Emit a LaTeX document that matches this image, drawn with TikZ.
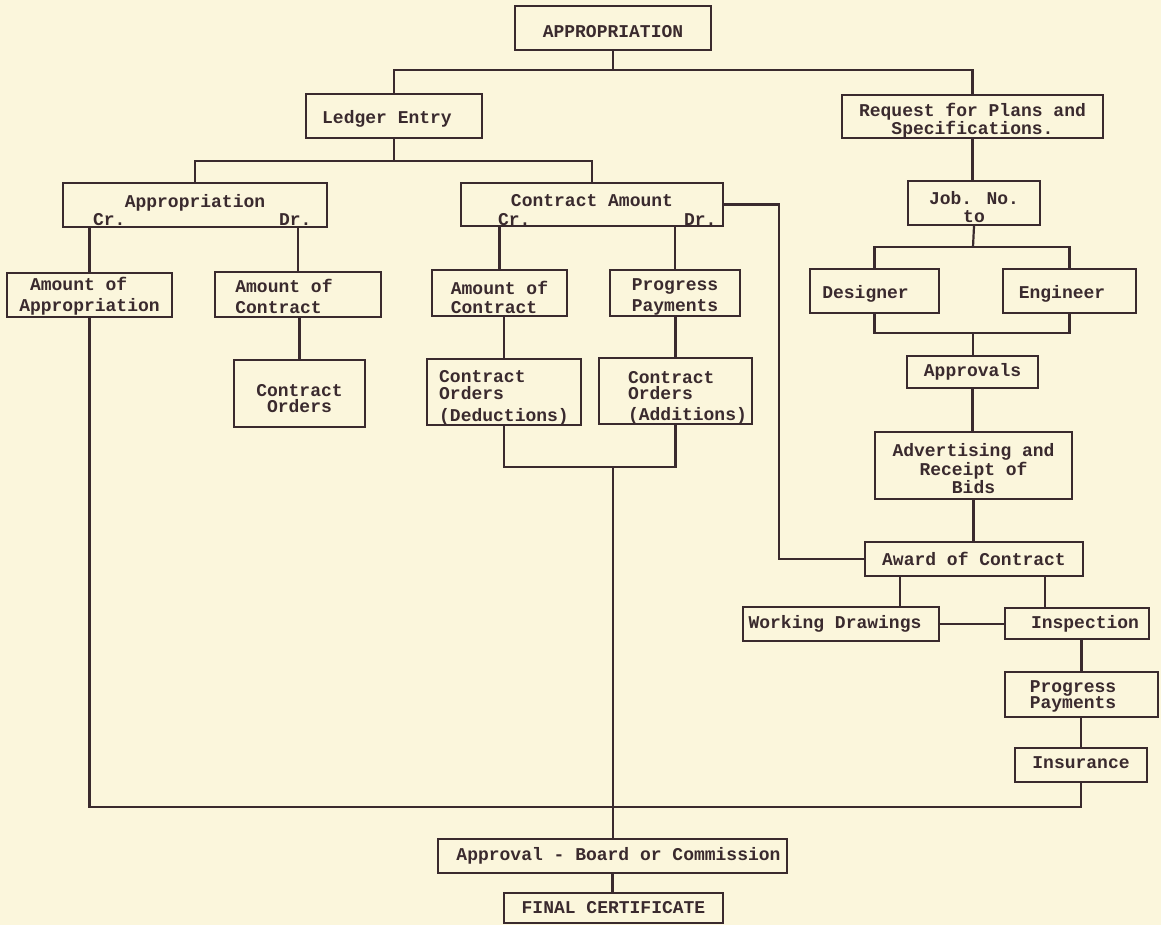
\documentclass[tikz,border=0pt]{standalone}
\usepackage{fontspec}
\setmainfont{Liberation Mono}
\usetikzlibrary{calc}
\definecolor{paper}{RGB}{251,246,220}
\definecolor{ink}{RGB}{58,42,46}
% #1 = distance of last baseline below box centre, #2 = column type, #3 = lines
\newcommand\boxtxt[3]{\raisebox{-#1pt}[0pt][0pt]{\begin{tabular}[b]{@{}#2@{}}#3\end{tabular}}}
\begin{document}
\begin{tikzpicture}[x=1pt,y=-1pt, color=ink, line width=2.2pt,
  box/.style={draw=ink, line width=2.2pt, inner sep=0pt, text=ink,
    font=\fontsize{18}{18}\selectfont\bfseries},
  lbl/.style={inner sep=0pt, text=ink, font=\fontsize{18}{18}\selectfont\bfseries}]
\fill[paper] (0,0) rectangle (1161,925);
\useasboundingbox (0,0) rectangle (1161,925);

% boxes
\node[box, minimum width=196, minimum height=44] (approp) at (613,28) {\boxtxt{10}{c}{APPROPRIATION}};
\node[box, minimum width=176, minimum height=44] (ledger) at (394,116) {\boxtxt{7.5}{c}{Ledger Entry\hspace*{14pt}}};
\node[box, minimum width=261, minimum height=43] (request) at (972.5,116.5) {\boxtxt{18.5}{c}{Request for Plans and\\Specifications.}};
\node[box, minimum width=264, minimum height=44] (appr) at (195,205) {\boxtxt{3}{c}{Appropriation}};
\node[box, minimum width=262, minimum height=43] (camt) at (592,204.5) {\boxtxt{2.5}{c}{Contract Amount}};
\node[box, minimum width=132, minimum height=44] (job) at (974,203) {\boxtxt{20}{c}{Job. No.\\to}};
\node[box, minimum width=165, minimum height=44] (amtapp) at (89.5,295) {\boxtxt{16}{l}{\hspace*{10.8pt}Amount of\\[2pt]Appropriation}};
\node[box, minimum width=166, minimum height=45] (amtcon) at (298,294.5) {\boxtxt{18.5}{l}{Amount of\hspace*{28pt}\\[3pt]Contract}};
\node[box, minimum width=135, minimum height=46] (amtcon2) at (499.5,293) {\boxtxt{20}{l}{Amount of\\[1pt]Contract}};
\node[box, minimum width=130, minimum height=46] (progpay) at (675,293) {\boxtxt{18}{l}{Progress\\[2pt]Payments}};
\node[box, minimum width=129, minimum height=44] (designer) at (874.5,291) {\boxtxt{7}{c}{Designer\hspace*{18pt}}};
\node[box, minimum width=133, minimum height=44] (engineer) at (1069.5,291) {\boxtxt{7}{c}{Engineer\hspace*{15pt}}};
\node[box, minimum width=131, minimum height=32] (approvals) at (972.5,372) {\boxtxt{4}{c}{Approvals}};
\node[box, minimum width=197, minimum height=67] (advert) at (973.5,465.5) {\boxtxt{28}{c}{Advertising and\\Receipt of\\Bids}};
\node[box, minimum width=218, minimum height=34] (award) at (974,559) {\boxtxt{6}{c}{Award of Contract}};
\node[box, minimum width=131, minimum height=67] (contord) at (299.5,393.5) {\boxtxt{19}{c}{Contract\\[-2pt]Orders}};
\node[box, minimum width=154, minimum height=66] (deduct) at (504,392) {\boxtxt{29}{l}{Contract\\[-1pt]Orders\\[3pt](Deductions)}};
\node[box, minimum width=153, minimum height=66] (addit) at (675.5,391) {\boxtxt{29}{l}{\hspace*{24pt}Contract\\[-2pt]\hspace*{24pt}Orders\\[2pt]\hspace*{24pt}(Additions)}};
\node[box, minimum width=196, minimum height=34] (workdraw) at (841,624) {\boxtxt{4.5}{c}{Working Drawings\hspace*{12pt}}};
\node[box, minimum width=144, minimum height=31] (inspect) at (1077,623.5) {\boxtxt{5}{c}{\hspace*{16pt}Inspection}};
\node[box, minimum width=153, minimum height=45] (progpay2) at (1081.5,694.5) {\boxtxt{13.5}{l}{Progress\hspace*{17pt}\\[-2pt]Payments}};
\node[box, minimum width=132, minimum height=34] (insur) at (1081,765) {\boxtxt{3}{c}{Insurance}};
\node[box, minimum width=349, minimum height=34] (approvalb) at (612.5,856) {\boxtxt{4}{c}{\hspace*{12pt}Approval - Board or Commission}};
\node[box, minimum width=219, minimum height=30] (final) at (613.5,908) {\boxtxt{5}{c}{FINAL CERTIFICATE}};

% Cr. / Dr. labels
\node[lbl, anchor=base west] (apprcr) at (92,226) {Cr.};
\node[lbl, anchor=base west] (apprdr) at (278,226) {Dr.};
\node[lbl, anchor=base west] (camtcr) at (497,226) {Cr.};
\node[lbl, anchor=base west] (camtdr) at (683,226) {Dr.};

% helper coordinates
\coordinate (t1) at (613,70);
\coordinate (t2) at (394,161);
\coordinate (t3) at (613,467);
\coordinate (t4) at (0,807);
\coordinate (t5) at (973,247);
\coordinate (t6) at (973,333);
\coordinate (k)  at (779,0);
\coordinate (aw1) at (900,576);
\coordinate (aw2) at (1045,576);

% connectors
\draw (approp.south) -- (t1);
\draw (ledger.north) |- (t1) -| (request.north);
\draw (ledger.south) -- (t2);
\draw (appr.north) |- (t2) -| (camt.north);
\draw (amtapp.north) -- (amtapp.north |- appr.south);
\draw (amtcon.north) -- (amtcon.north |- appr.south);
\draw (amtcon2.north) -- (amtcon2.north |- camt.south);
\draw (progpay.north) -- (progpay.north |- camt.south);
\draw (camt.east) -- (k |- camt.east) -- (k |- award.west) -- (award.west);
\draw (contord.north) -- (contord.north |- amtcon.south);
\draw (deduct.north) -- (deduct.north |- amtcon2.south);
\draw (addit.north) -- (addit.north |- progpay.south);
\draw (deduct.south) |- (t3) -| (addit.south);
\draw (t3) -- (t3 |- approvalb.north);
\draw (approvalb.south) -- (approvalb.south |- final.north);
\draw (amtapp.south) -- (amtapp.south |- t4) -- (insur.south |- t4) -- (insur.south);
\draw (request.south) -- (request.south |- job.north);
\draw (job.south) -- (t5);
\draw (designer.north) |- (t5) -| (engineer.north);
\draw (designer.south) |- (t6) -| (engineer.south);
\draw (t6) -- (t6 |- approvals.north);
\draw (approvals.south) -- (approvals.south |- advert.north);
\draw (advert.south) -- (advert.south |- award.north);
\draw (aw1) -- (aw1 |- workdraw.north);
\draw (aw2) -- (aw2 |- inspect.north);
\draw (workdraw.east) -- (workdraw.east -| inspect.west);
\draw (progpay2.north) -- (progpay2.north |- inspect.south);
\draw (insur.north) -- (insur.north |- progpay2.south);
\end{tikzpicture}
\end{document}
